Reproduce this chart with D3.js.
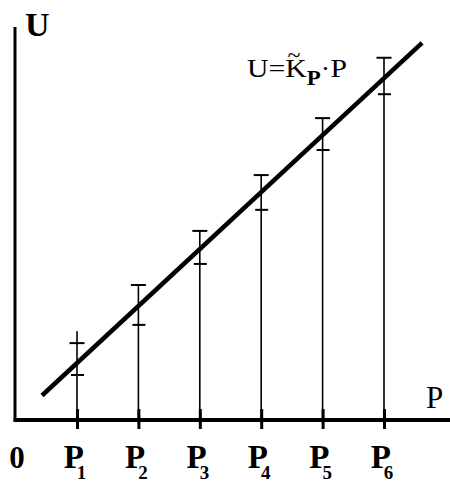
<!DOCTYPE html>
<html>
<head>
<meta charset="utf-8">
<script src="https://cdn.jsdelivr.net/npm/d3@7"></script>
<style>
  html, body { margin: 0; padding: 0; background: #fff; }
  svg { display: block; }
</style>
</head>
<body>
<svg id="chart" width="450" height="481"></svg>
<script>
// Measurement points P1..P6 and the scatter band of U at each of them
const pointIndex = [1, 2, 3, 4, 5, 6];
const pointNames = ["1", "2", "3", "4", "5", "6"];
const stemTop = [1.56, 2.37, 3.32, 4.30, 5.30, 6.36];
const upperU = [1.35, 2.37, 3.32, 4.30, 5.30, 6.36];
const lowerU = [0.79, 1.67, 2.74, 3.69, 4.74, 5.72];
// Calibration line U = K·P, drawn over this range of P
const lineP = [0.43, 6.62];
const slopeK = 1;

const SERIF = '"Liberation Serif"';

const svg = d3.select("#chart");
const W = 450, H = 481;

const x = d3.scaleLinear().domain([0, 7]).range([15.6, 15.6 + 7 * 61.4]);
const y = d3.scaleLinear().domain([0, 6.9]).range([420, 27]);

// Vertical stems from the P axis up to the top of each band
const bars = svg.append("g");
pointIndex.forEach((p, i) => {
  bars.append("line")
    .attr("x1", x(p)).attr("x2", x(p))
    .attr("y1", y(0)).attr("y2", y(stemTop[i]))
    .attr("stroke", "#000").attr("stroke-width", 1.6);
  bars.append("line")
    .attr("x1", x(p) - 7.5).attr("x2", x(p) + 7.5)
    .attr("y1", y(upperU[i])).attr("y2", y(upperU[i]))
    .attr("stroke", "#000").attr("stroke-width", 2);
  bars.append("line")
    .attr("x1", x(p) - 6).attr("x2", x(p) + 7)
    .attr("y1", y(lowerU[i])).attr("y2", y(lowerU[i]))
    .attr("stroke", "#000").attr("stroke-width", 2);
});

// Calibration line
svg.append("path")
  .datum(lineP)
  .attr("fill", "none")
  .attr("stroke", "#000")
  .attr("stroke-width", 4.5)
  .attr("d", d3.line().x(p => x(p)).y(p => y(slopeK * p)));

// Axes
svg.append("line")
  .attr("x1", x(0) - 0.6).attr("x2", x(0) - 0.6)
  .attr("y1", y(6.9)).attr("y2", y(0) + 1.5)
  .attr("stroke", "#000").attr("stroke-width", 3);

const xAxis = d3.axisBottom(x)
  .tickValues([0].concat(pointIndex))
  .tickSizeOuter(0)
  .tickFormat(() => "");
const gx = svg.append("g")
  .attr("transform", `translate(0,${y(0)})`)
  .call(xAxis);
gx.select(".domain").remove();
gx.append("line")
  .attr("x1", x(0) - 2).attr("x2", W)
  .attr("y1", 0).attr("y2", 0)
  .attr("stroke", "#000").attr("stroke-width", 4);
gx.selectAll(".tick line")
  .attr("y1", -11).attr("y2", 9)
  .attr("stroke", "#000").attr("stroke-width", 3)
  .attr("display", d => d === 0 ? "none" : null);
gx.selectAll(".tick text").remove();

// Tick labels: 0, P1..P6
const labels = svg.append("g");
labels.append("text")
  .attr("x", x(0) + 1.5).attr("y", 468)
  .attr("text-anchor", "middle")
  .style("font-family", SERIF)
  .attr("font-weight", "bold").attr("font-size", 31)
  .text("0");
pointIndex.forEach((p, i) => {
  const t = labels.append("text")
    .attr("x", x(p) - 2).attr("y", 468)
    .attr("text-anchor", "middle")
    .style("font-family", SERIF)
    .attr("font-weight", "bold").attr("font-size", 33);
  t.append("tspan").text("P");
  t.append("tspan").attr("dx", -7).attr("dy", 11).attr("font-size", 19).text(pointNames[i]);
});

// Axis titles
svg.append("text")
  .attr("x", 25).attr("y", 36)
  .style("font-family", SERIF)
  .attr("font-weight", "bold").attr("font-size", 34)
  .text("U");
svg.append("text")
  .attr("x", 426).attr("y", 408)
  .style("font-family", SERIF)
  .attr("font-size", 31)
  .text("P");

// Formula of the calibration line
const f = svg.append("text")
  .attr("x", 247).attr("y", 77)
  .attr("textLength", 100)
  .attr("lengthAdjust", "spacingAndGlyphs")
  .style("font-family", SERIF)
  .attr("font-size", 26);
f.append("tspan").text("U=");
f.append("tspan").text("K");
f.append("tspan").attr("dy", 8).attr("font-size", 20).attr("font-weight", "bold").text("P");
f.append("tspan").attr("dy", -8).text("·P");
svg.append("text")
  .attr("x", 294).attr("y", 63)
  .attr("text-anchor", "middle")
  .style("font-family", SERIF)
  .attr("font-size", 24)
  .text("~");
</script>
</body>
</html>
